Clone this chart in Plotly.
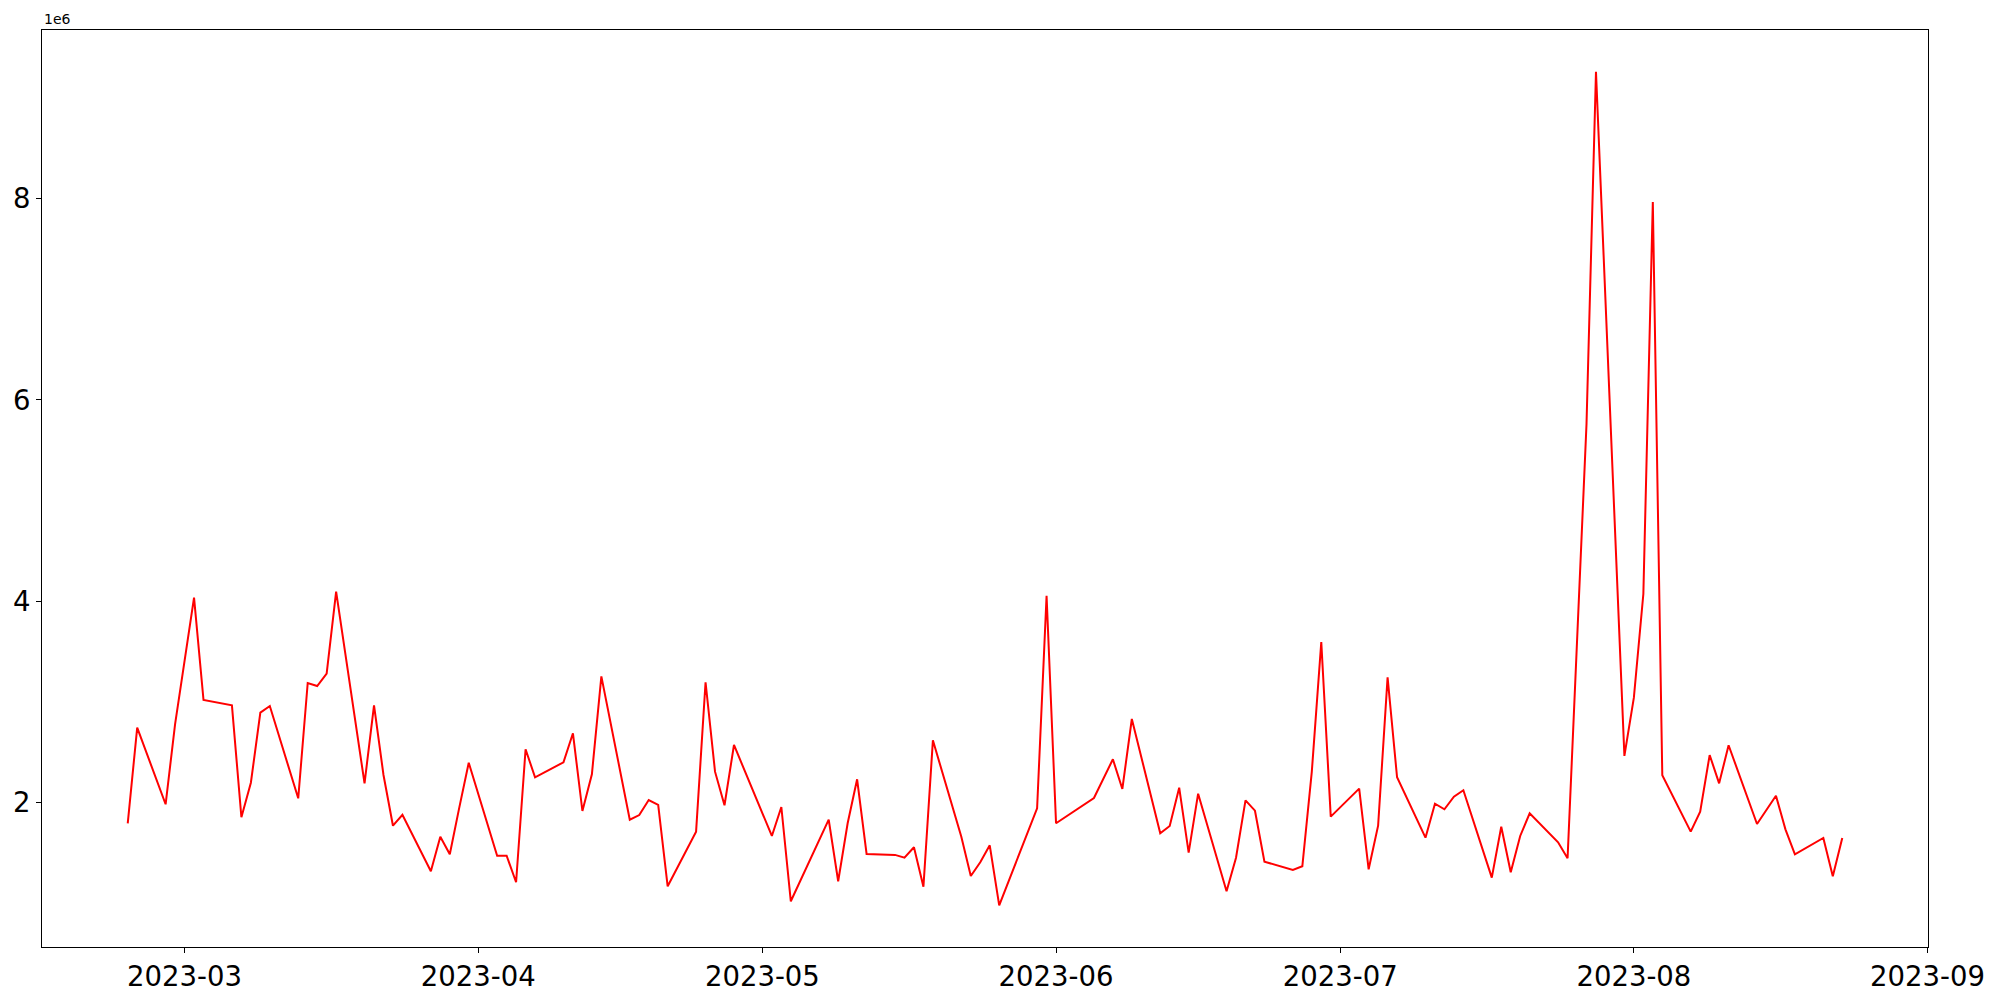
import plotly.graph_objects as go
import pandas as pd

# Trading dates (weekdays, KRX holidays excluded)
dates_feb = ["2023-02-23", "2023-02-24", "2023-02-27", "2023-02-28"]
dates_mar = ["2023-03-%02d" % d for d in [2, 3, 6, 7, 8, 9, 10, 13, 14, 15, 16, 17, 20, 21, 22, 23, 24, 27, 28, 29, 30, 31]]
dates_apr = ["2023-04-%02d" % d for d in [3, 4, 5, 6, 7, 10, 11, 12, 13, 14, 17, 18, 19, 20, 21, 24, 25, 26, 27, 28]]
dates_may = ["2023-05-%02d" % d for d in [2, 3, 4, 8, 9, 10, 11, 12, 15, 16, 17, 18, 19, 22, 23, 24, 25, 26, 30, 31]]
dates_jun = ["2023-06-%02d" % d for d in [1, 2, 5, 7, 8, 9, 12, 13, 14, 15, 16, 19, 20, 21, 22, 23, 26, 27, 28, 29, 30]]
dates_jul = ["2023-07-%02d" % d for d in [3, 4, 5, 6, 7, 10, 11, 12, 13, 14, 17, 18, 19, 20, 21, 24, 25, 26, 27, 28, 31]]
dates_aug = ["2023-08-%02d" % d for d in [1, 2, 3, 4, 7, 8, 9, 10, 11, 14, 16, 17, 18, 21, 22, 23]]

# Values in millions
vals_feb = [1.794, 2.744, 1.983, 2.78]
vals_mar = [4.035, 3.019, 2.966, 1.854, 2.197, 2.893, 2.959, 2.042, 3.188, 3.158, 3.280, 4.095,
            2.191, 2.966, 2.274, 1.770, 1.879, 1.317, 1.661, 1.486, 1.95, 2.396]
vals_apr = [1.472, 1.472, 1.208, 2.529, 2.251, 2.400, 2.688, 1.916, 2.281, 3.254, 1.830, 1.876,
            2.025, 1.976, 1.168, 1.711, 3.195, 2.307, 1.973, 2.572]
vals_may = [1.668, 1.956, 1.019, 1.830, 1.218, 1.794, 2.231, 1.489, 1.48, 1.452, 1.556, 1.164,
            2.618, 1.661, 1.270, 1.407, 1.575, 0.979, 1.943, 4.055]
vals_jun = [1.794, 1.857, 2.045, 2.430, 2.135, 2.830, 1.695, 1.767, 2.148, 1.502, 2.088, 1.118,
            1.452, 2.022, 1.919, 1.413, 1.330, 1.367, 2.307, 3.595, 1.860]
vals_jul = [2.138, 1.337, 1.770, 3.244, 2.251, 1.651, 1.989, 1.933, 2.058, 2.122, 1.254, 1.760,
            1.307, 1.668, 1.893, 1.605, 1.446, 3.6, 5.76, 9.261, 2.463]
vals_aug = [3.042, 4.072, 7.966, 2.271, 1.711, 1.909, 2.472, 2.191, 2.569, 1.787, 2.068, 1.734,
            1.486, 1.648, 1.268, 1.648]

y_ticks = [2, 4, 6, 8]
x_ticks = ["2023-03-01", "2023-04-01", "2023-05-01", "2023-06-01", "2023-07-01", "2023-08-01", "2023-09-01"]
x_ticklabels = ["2023-03", "2023-04", "2023-05", "2023-06", "2023-07", "2023-08", "2023-09"]

dates = dates_feb + dates_mar + dates_apr + dates_may + dates_jun + dates_jul + dates_aug
vals = vals_feb + vals_mar + vals_apr + vals_may + vals_jun + vals_jul + vals_aug
scale = 1e6
y = [v * scale for v in vals]

d = pd.to_datetime(dates)
span = d.max() - d.min()
xr = [d.min() - span * 0.05, d.max() + span * 0.05]
ymin, ymax = min(y), max(y)
yr = [ymin - (ymax - ymin) * 0.05, ymax + (ymax - ymin) * 0.05]

fig = go.Figure()
fig.add_trace(go.Scatter(x=dates, y=y, mode="lines", line=dict(color="red", width=2)))

font = "DejaVu Sans, Liberation Sans, sans-serif"
fig.update_layout(
    width=2000, height=1000, autosize=False,
    margin=dict(l=34, r=80, t=22, b=61),
    paper_bgcolor="white", plot_bgcolor="white",
    showlegend=False,
    font=dict(family=font, color="black"),
)
fig.update_xaxes(
    range=xr, tickvals=x_ticks, ticktext=x_ticklabels, automargin=False,
    showgrid=False, zeroline=False,
    showline=True, linecolor="black", linewidth=1, mirror=True,
    ticks="outside", ticklen=5, tickwidth=1, tickcolor="black",
    tickfont=dict(size=27.5, family=font, color="black"),
)
fig.update_yaxes(
    range=yr, tickvals=[t * scale for t in y_ticks], ticktext=[str(t) for t in y_ticks],
    automargin=False,
    showgrid=False, zeroline=False,
    showline=True, linecolor="black", linewidth=1, mirror=True,
    ticks="outside", ticklen=5, tickwidth=1, tickcolor="black",
    tickfont=dict(size=27.5, family=font, color="black"),
)
fig.add_annotation(
    text="1e6", xref="paper", yref="paper", x=0, y=1,
    xanchor="left", yanchor="bottom", showarrow=False, yshift=1,
    font=dict(size=14, family=font, color="black"),
)
fig.write_html("out.html")
